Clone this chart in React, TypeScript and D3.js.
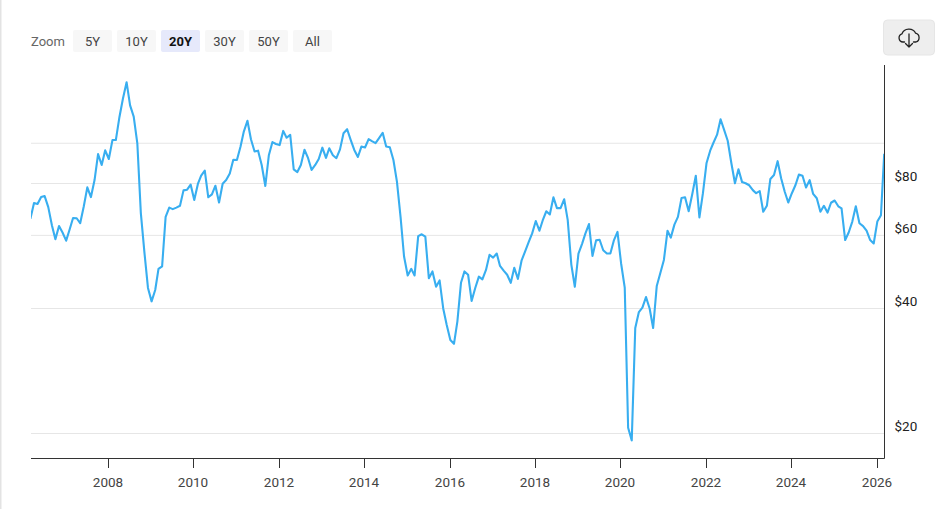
import React from "react";
import * as d3 from "d3";

const FIRST_MONTH = new Date(2006, 2, 8);
const prices: number[] = [
  65.6, 71.6, 71.2, 74.0, 74.4, 70.0, 63.3, 58.6, 63.0, 60.8, 58.1, 62.0, 65.9, 65.8, 64.0, 70.3, 78.1, 74.0, 81.3, 93.9,
  88.4, 95.9, 91.4, 101.5, 101.5, 115.4, 127.8, 139.9, 123.0, 115.6, 99.6, 67.7, 54.3, 44.7, 41.5, 44.2, 49.7, 50.4, 66.3, 69.8,
  69.2, 69.8, 70.5, 76.8, 77.1, 79.3, 72.8, 79.6, 83.3, 85.7, 73.9, 75.1, 78.8, 71.8, 79.7, 81.3, 84.3, 91.0, 90.9, 98.0,
  106.4, 113.0, 102.0, 95.3, 95.7, 88.4, 78.7, 93.3, 100.4, 99.3, 98.7, 106.8, 102.8, 104.5, 86.3, 85.0, 88.4, 96.2, 91.8, 86.0,
  88.4, 91.4, 97.3, 92.0, 97.0, 93.3, 91.8, 96.4, 105.4, 107.8, 101.5, 96.1, 92.4, 97.9, 97.4, 102.0, 100.9, 99.8, 102.6, 105.7,
  98.0, 97.5, 90.9, 80.6, 66.3, 53.2, 47.9, 49.7, 47.9, 59.6, 60.2, 59.4, 47.2, 49.0, 45.0, 46.6, 39.9, 36.4, 33.5, 32.8,
  37.1, 46.0, 49.0, 48.1, 41.6, 44.7, 47.6, 46.9, 49.4, 53.7, 52.9, 54.1, 50.5, 49.2, 48.1, 46.0, 50.0, 47.0, 52.0, 54.7,
  57.6, 60.5, 64.8, 61.4, 65.0, 68.4, 67.2, 73.9, 69.6, 69.6, 73.1, 65.2, 50.9, 45.0, 54.1, 57.1, 60.4, 63.7, 53.4, 58.2,
  58.4, 55.1, 54.1, 54.1, 58.3, 61.0, 51.2, 44.8, 20.6, 19.2, 35.8, 39.1, 40.1, 42.5, 39.9, 35.8, 45.2, 48.5, 52.2, 61.4,
  59.1, 63.5, 66.3, 73.6, 73.9, 68.4, 75.3, 83.3, 66.1, 75.6, 89.4, 95.7, 100.0, 104.6, 113.9, 107.3, 101.1, 89.4, 79.9, 86.3,
  80.4, 79.9, 79.0, 76.9, 75.6, 76.5, 68.2, 70.5, 81.8, 83.6, 90.3, 82.1, 76.2, 71.8, 75.6, 79.1, 83.8, 83.3, 78.0, 81.3,
  75.3, 73.5, 68.2, 70.5, 67.9, 71.7, 72.6, 70.3, 69.5, 58.3, 60.8, 64.6, 70.3, 64.0, 63.0, 61.4, 58.3, 57.2, 64.6, 66.9,
  94.1,
];
const gridValues = [20, 40, 60, 80, 100];
const labelledValues = [20, 40, 60, 80];
const tickYears = [2008, 2010, 2012, 2014, 2016, 2018, 2020, 2022, 2024, 2026];
const zoomLabels = ["5Y", "10Y", "20Y", "30Y", "50Y", "All"];
const selectedZoom = "20Y";

const W = 946, H = 509;
const left = 31, right = 884.5, top = 65, bottom = 458.5;
const FONT = "Roboto, sans-serif";

export default function App() {
  // anchored on the two axis readings: 2008 at x=108, 2026 at x=876.5
  const t0 = new Date(2008, 0, 1), t1 = new Date(2026, 0, 1);
  const x = d3.scaleTime().domain([t0, t1]).range([108, 876.5]);
  const y = d3.scaleLog().base(10).domain([20, 80]).range([433, 183]);
  const dates = prices.map((_, i) => d3.timeMonth.offset(FIRST_MONTH, i));
  const line = d3.line<number>().x((_, i) => x(dates[i])).y((d) => y(d));
  return (
    <svg width={W} height={H} viewBox={`0 0 ${W} ${H}`}
      style={{ position: "absolute", left: 0, top: 0, background: "#fff", fontFamily: FONT }}>
      <defs>
        <clipPath id="plot"><rect x={left} y={top} width={right - left} height={bottom - top} /></clipPath>
      </defs>
      <rect x={0} y={0} width={1.5} height={H} fill="#e3e3e3" />

      <text x={31} y={46} fontSize={13} fill="#666">Zoom</text>
      {zoomLabels.map((l, i) => (
        <g key={l}>
          <rect x={73 + i * 44} y={30} width={39} height={22} rx={2} fill={l === selectedZoom ? "#e6e9fb" : "#f7f7f7"} />
          <text x={92.5 + i * 44} y={46} fontSize={13} textAnchor="middle"
            fontWeight={l === selectedZoom ? 700 : 400} fill={l === selectedZoom ? "#111" : "#444"}>{l}</text>
        </g>
      ))}

      <rect x={883.5} y={20} width={51} height={35} rx={4} fill="#eeeeee" stroke="#e6e6e6" />
      <g fill="none" stroke="#222" strokeWidth={1.3} strokeLinecap="round" strokeLinejoin="round">
        <path d="M904.5 42 h-1.5 a4.2 4.2 0 0 1 -1 -8.2 a7.2 6.6 0 0 1 13.6 -0.6 a4.6 4.6 0 0 1 0.4 8.8 h-2.5" />
        <path d="M909 34 v13 M905.5 43.5 l3.5 3.5 l3.5 -3.5" />
      </g>

      {gridValues.map((v) => (
        <line key={v} x1={left} x2={right} y1={y(v) + 0.5} y2={y(v) + 0.5} stroke="#e6e6e6" />
      ))}

      <path d={line(prices) ?? ""} fill="none" stroke="#38aef0" strokeWidth={2.1} strokeLinejoin="round" clipPath="url(#plot)" />

      <line x1={right} x2={right} y1={top} y2={bottom} stroke="#333" />
      <line x1={left} x2={right} y1={bottom} y2={bottom} stroke="#333" />
      {tickYears.map((yr) => {
        const px = Math.round(x(new Date(yr, 0, 1))) + 0.5;
        return (
          <g key={yr}>
            <line x1={px} x2={px} y1={bottom} y2={bottom + 9.5} stroke="#333" />
            <text x={px - 0.5} y={486.5} fontSize={13.5} textAnchor="middle" fill="#444">{yr}</text>
          </g>
        );
      })}
      {labelledValues.map((v) => (
        <text key={v} x={894.5} y={y(v) - 2} fontSize={13.5} fill="#222">${v}</text>
      ))}
    </svg>
  );
}
